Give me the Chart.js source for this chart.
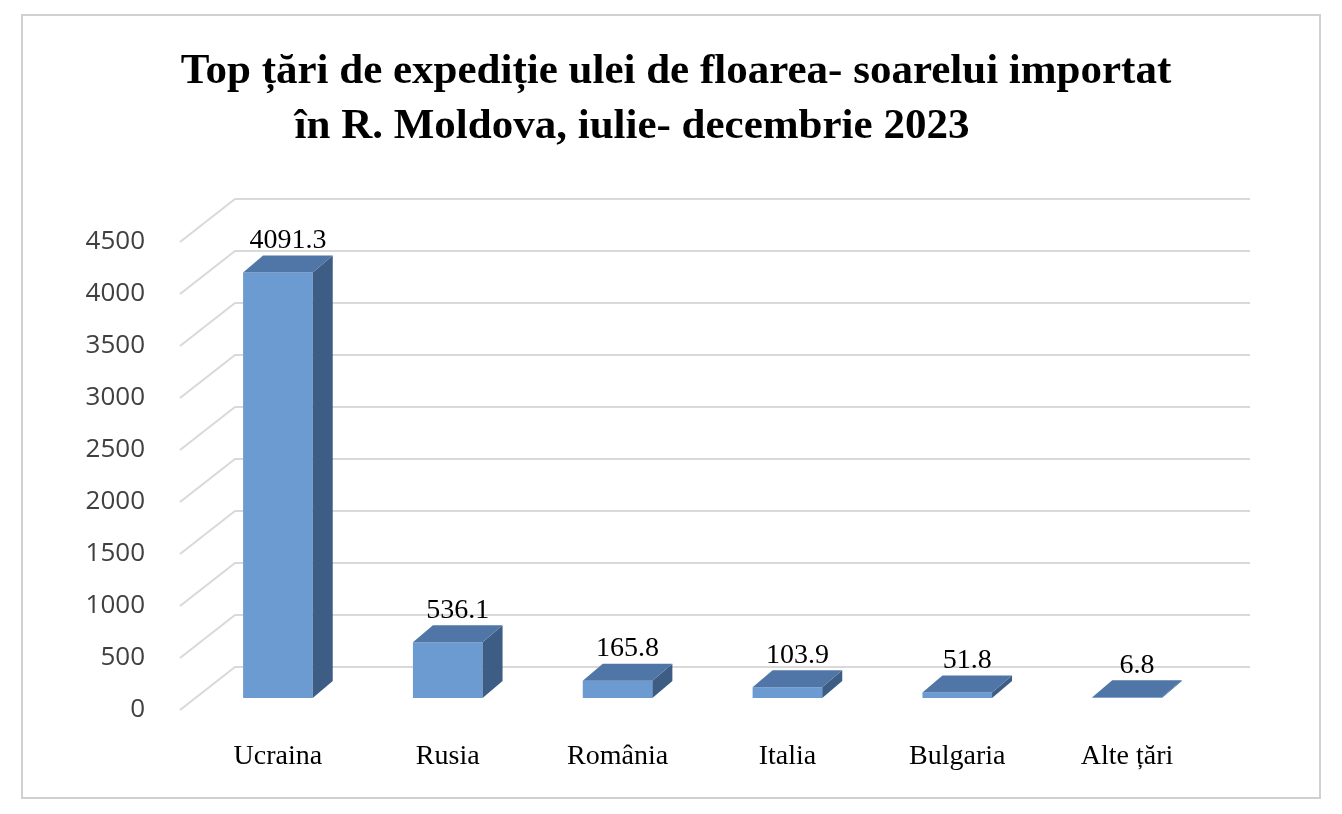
<!DOCTYPE html>
<html>
<head>
<meta charset="utf-8">
<script src="https://cdn.jsdelivr.net/npm/chart.js@4"></script>
<style>
  body { margin: 0; background: #fff; }
  #wrap { width: 1342px; height: 814px; position: relative; }
</style>
</head>
<body>
<div id="wrap"><canvas id="myChart"></canvas></div>
<script>
var countries = ["Ucraina", "Rusia", "România", "Italia", "Bulgaria", "Alte țări"];
var values = [4091.3, 536.1, 165.8, 103.9, 51.8, 6.8];
var valueLabels = ["4091.3", "536.1", "165.8", "103.9", "51.8", "6.8"];
var titleLines = ["Top țări de expediție ulei de floarea- soarelui importat", "în R. Moldova, iulie- decembrie 2023"];

var frontColor = "#6c9bd2";
var topColor = "#4f76a6";
var sideColor = "#3d5d85";
var dx = 20, dy = -17;

var decor = {
  id: "decor",
  beforeDraw: function (chart) {
    var ctx = chart.ctx;
    ctx.save();
    ctx.fillStyle = "#fff";
    ctx.fillRect(0, 0, chart.width, chart.height);
    ctx.strokeStyle = "#d0d0d0";
    ctx.lineWidth = 2;
    ctx.strokeRect(22, 15, 1298, 783);
    // title
    ctx.fillStyle = "#000";
    ctx.font = "bold 43px 'Liberation Serif'";
    ctx.textAlign = "center";
    ctx.textBaseline = "middle";
    ctx.fillText(titleLines[0], 676, 72);
    ctx.fillText(titleLines[1], 632, 127);
    // 3d gridlines
    var y = chart.scales.y, area = chart.chartArea;
    ctx.strokeStyle = "#d9d9d9";
    ctx.lineWidth = 2;
    y.ticks.forEach(function (t) {
      var py = y.getPixelForValue(t.value);
      ctx.beginPath();
      ctx.moveTo(area.left - 13, py + 12);
      ctx.lineTo(area.left + 42, py - 31);
      ctx.lineTo(area.right + 38, py - 31);
      ctx.stroke();
    });
    ctx.restore();
  },
  afterDatasetsDraw: function (chart) {
    var ctx = chart.ctx;
    var meta = chart.getDatasetMeta(0);
    ctx.save();
    meta.data.forEach(function (bar, i) {
      var l = bar.x - bar.width / 2, r = bar.x + bar.width / 2;
      var t = bar.y, b = bar.base;
      ctx.fillStyle = sideColor;
      ctx.beginPath();
      ctx.moveTo(r, t); ctx.lineTo(r + dx, t + dy); ctx.lineTo(r + dx, b + dy); ctx.lineTo(r, b);
      ctx.closePath(); ctx.fill();
      ctx.fillStyle = topColor;
      ctx.beginPath();
      ctx.moveTo(l, t); ctx.lineTo(l + dx, t + dy); ctx.lineTo(r + dx, t + dy); ctx.lineTo(r, t);
      ctx.closePath(); ctx.fill();
      ctx.fillStyle = "#000";
      ctx.font = "28px 'Liberation Serif'";
      ctx.textAlign = "center";
      ctx.textBaseline = "bottom";
      ctx.fillText(valueLabels[i], bar.x + 10, t + dy - 1);
    });
    ctx.restore();
  }
};

new Chart("myChart", {
  type: "bar",
  data: {
    labels: countries,
    datasets: [{
      data: values,
      backgroundColor: frontColor,
      barPercentage: 0.41,
      categoryPercentage: 1
    }]
  },
  options: {
    responsive: true,
    maintainAspectRatio: false,
    animation: false,
    layout: { padding: { left: 0, right: 130, top: 230, bottom: 36 } },
    plugins: { legend: { display: false }, tooltip: { enabled: false } },
    scales: {
      x: {
        grid: { display: false },
        border: { display: false },
        ticks: { color: "#000", font: { family: "Liberation Serif", size: 28 }, padding: 34, maxRotation: 0 },
        afterFit: function (s) { s.height = 80; }
      },
      y: {
        min: 0, max: 4500,
        grid: { display: false },
        border: { display: false },
        ticks: {
          stepSize: 500, color: "#404040", font: { family: "Open Sans", size: 26 }, padding: 40, labelOffset: 12,
          callback: function (v) { return String(v); }
        },
        afterFit: function (s) { s.width = 193; }
      }
    }
  },
  plugins: [decor]
});
</script>
</body>
</html>
